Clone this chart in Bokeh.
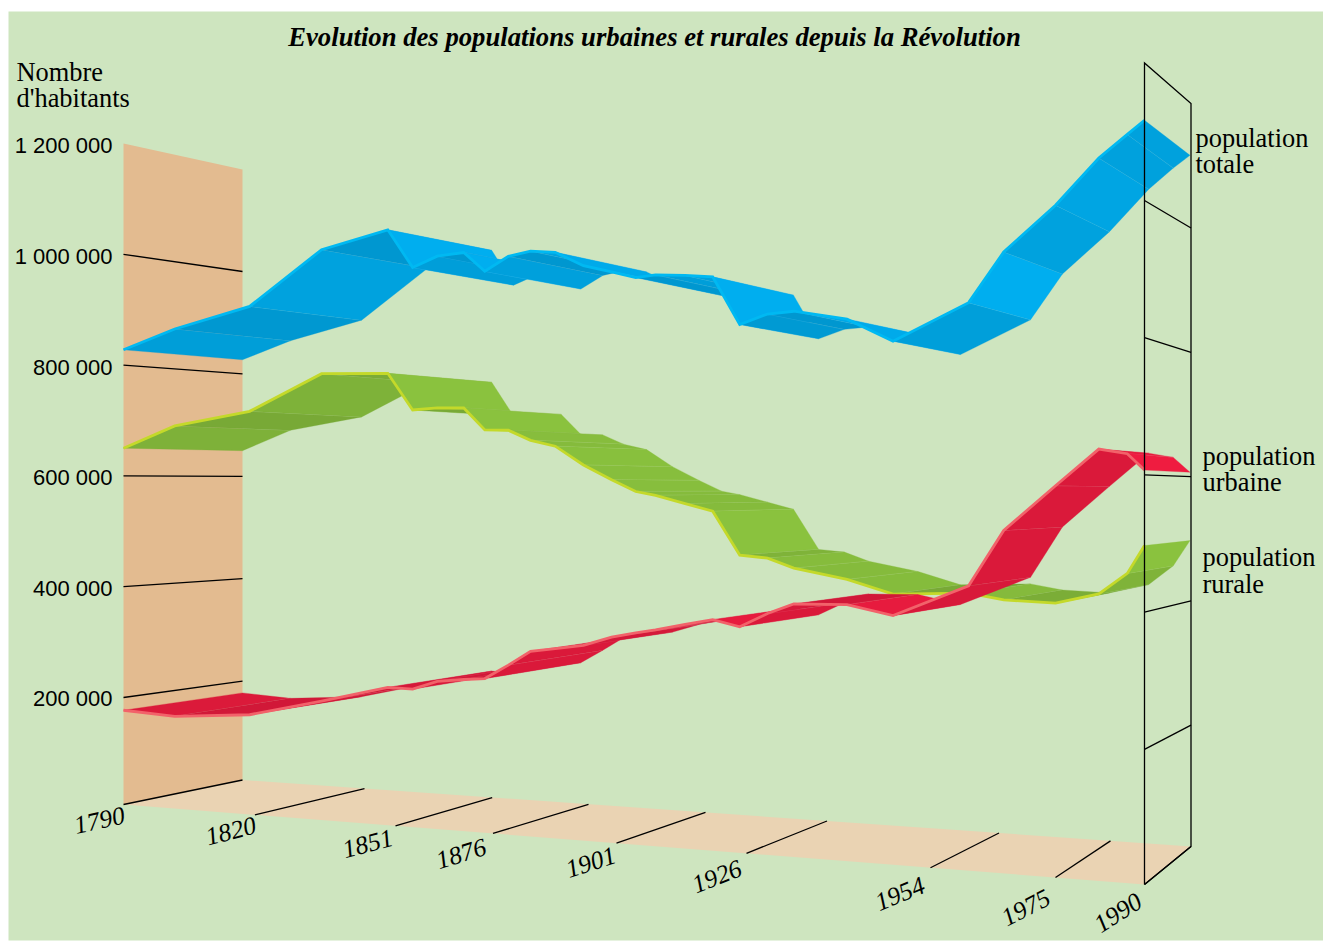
import math
import numpy as np
from bokeh.plotting import figure
from bokeh.core.properties import value
from bokeh.embed import file_html
from bokeh.resources import INLINE

# ---------- data ----------
CENSUS_YEARS = [1790, 1801.7, 1818.8, 1834.7, 1849.3, 1855.4, 1861.7, 1868.5, 1873.9, 1879.1,
                1883.6, 1888.6, 1894.3, 1900.0, 1904.7, 1908.5, 1914.2, 1919.5, 1924.7, 1929.2,
                1933.2, 1941.3, 1948.3, 1960.4, 1966.3, 1975, 1982.3, 1987.1, 1990]
POP_TOTALE = [827600, 862000, 897000, 990000, 1018000, 952000, 969000, 973000, 940000, 963000,
              970000, 966000, 942000, 930000, 919000, 922000, 919000, 915000, 838000, 853000,
              856000, 841000, 805000, 860000, 934000, 1000000, 1066000, 1098000, 1117000]
POP_RURALE = [650000, 689000, 713000, 776000, 774000, 711000, 714000, 713000, 676000, 675000,
              658000, 648000, 617000, 593000, 574000, 568000, 555000, 543000, 474000, 470000,
              455000, 439000, 418000, 422000, 413000, 410000, 425000, 456000, 497000]
POP_URBAINE = [177000, 171000, 181000, 211000, 240000, 239000, 254000, 259000, 262000, 286000,
               310000, 316000, 323000, 338000, 346000, 352000, 362000, 371000, 361000, 383000,
               399000, 400000, 385000, 433000, 517000, 584000, 638000, 631000, 607000]
YEAR_TICKS = [1790, 1820, 1851, 1876, 1901, 1926, 1954, 1975, 1990]
VALUE_TICKS = [200000, 400000, 600000, 800000, 1000000]
VALUE_LABELS = ["200 000", "400 000", "600 000", "800 000", "1 000 000", "1 200 000"]
TITLE = "Evolution des populations urbaines et rurales depuis la Révolution"

# ---------- projection (layout) ----------
TICK_FRONT = [123, 254.4, 395, 492.5, 616, 746, 930, 1055, 1144]
TICK_BACK = [242, 364, 491.7, 588, 705, 826.5, 998.5, 1110, 1190.5]
DEPTH_F = [123, 174.3, 249, 321, 387, 412, 739, 968, 1055, 1098, 1127, 1144]
DEPTH_B = [242, 290, 361, 427, 491, 513, 818, 1030, 1109, 1148, 1173, 1189.5]


def front_x(year):
    return np.interp(year, YEAR_TICKS, TICK_FRONT)


def back_x(fx):
    return np.interp(fx, DEPTH_F, DEPTH_B)


def front_y(x, v):
    t = (np.asarray(x) - 123) / 1021
    return 807.8 + 78.2 * t - np.asarray(v) / 1e5 * (55.4 + 13.2 * t)


def back_y(x, v):
    t = (np.asarray(x) - 242) / 948
    return 783 + 66 * t - np.asarray(v) / 1e5 * (51.2 + 10.95 * t)


def shade(slope, cap):
    k = np.interp(slope, [-1.5, -0.25, -0.05, 0.0, 0.45, 0.7, 1.3, 2.1],
                  [1.0, 0.96, 0.89, 0.87, 0.87, 0.91, 0.93, 1.0])
    return min(k, cap) if slope > 0 else k


def col(base, k):
    return "#%02x%02x%02x" % tuple(int(round(c * k)) for c in base)


W, H = 1323, 941
p = figure(width=W, height=H, x_range=(0, W), y_range=(H, 0), output_backend="svg",
           toolbar_location=None, min_border=0, outline_line_color=None,
           background_fill_color="white", border_fill_color="white")
p.axis.visible = False
p.grid.visible = False

# page panel
p.patch([8, 1323, 1323, 8], [11, 11, 940, 940], fill_color="#cee5bf", line_color=None)
# wall and floor
p.patch([123, 242, 242, 123], [143, 169, 779.5, 804], fill_color="#e3bb90", line_color=None)
p.patch([123, 242, 1190.5, 1144], [804, 779.5, 846, 884], fill_color="#ead3b3", line_color=None)

# wall ticks
LW = 1.3
for v in VALUE_TICKS:
    p.line([123, 242], [front_y(123, v), back_y(242, v)], line_color="black", line_width=LW)


# floor ticks
def floor_f(x):
    return 804 + 80 * (x - 123) / 1021


def floor_b(x):
    return 779.5 + 66.5 * (x - 242) / 948.5


for fx, bx in zip(TICK_FRONT, TICK_BACK):
    p.line([fx, bx], [floor_f(fx), floor_b(bx)], line_color="black", line_width=LW)


# ribbons
def ribbon(values, base, stroke, cap=1.0):
    fx = front_x(np.array(CENSUS_YEARS))
    bx = back_x(fx)
    v = np.array(values, dtype=float)
    fy, by = front_y(fx, v), back_y(bx, v)
    for i in range(len(fx) - 1):
        slope = (v[i + 1] - v[i]) / 1000 / (fx[i + 1] - fx[i])
        c = col(base, shade(slope, cap))
        # left-to-right painting, each face with its own seam
        p.patch([fx[i], fx[i + 1], bx[i + 1], bx[i]], [fy[i], fy[i + 1], by[i + 1], by[i]],
                fill_color=c, line_color=c, line_width=0.3)
        if i < len(fx) - 2:
            p.line([fx[i + 1], bx[i + 1]], [fy[i + 1], by[i + 1]], line_color="white",
                   line_alpha=0.22, line_width=0.7)
    p.line(fx, fy, line_color=stroke, line_width=2.8, line_join="miter")


ribbon(POP_TOTALE, (0, 174, 239), "#00b9f2")
ribbon(POP_RURALE, (138, 194, 62), "#c4d92a")
ribbon(POP_URBAINE, (240, 28, 64), "#f2626a", cap=0.91)

# right frame, over the ribbons
p.line([1144, 1144, 1190.5, 1190.5, 1144, 1144], [884, 62.5, 103, 846, 884, 884],
       line_color="black", line_width=LW, line_join="miter")
for v in VALUE_TICKS:
    p.line([1144, 1190.5], [front_y(1144, v), back_y(1190, v)], line_color="black", line_width=LW)

# texts
serif = value("Liberation Serif")
sans = value("Liberation Sans")


def label(x, y, t, size, font=serif, style="normal", align="left", angle=0.0):
    p.text([x], [y], text=[t], text_font=font, text_font_size=value(f"{size}px"),
           text_font_style=style, text_align=align, text_baseline="alphabetic",
           text_color="black", angle=angle, angle_units="deg")


label(654, 36, TITLE, 26.7, style="bold italic", align="center")
label(16, 71.5, "Nombre", 26.4)
label(16, 97.5, "d'habitants", 26.4)
for lab, y in zip(VALUE_LABELS, [698, 588, 477, 367, 256, 145]):
    label(112, y, lab, 22, font=sans, align="right")
for txt, x, y in [("population", 1195, 137.5), ("totale", 1195, 163.5),
                  ("population", 1202, 455.5), ("urbaine", 1202, 481.5),
                  ("population", 1202, 556.5), ("rurale", 1202, 583.5)]:
    label(x, y, txt, 26.4)
YEAR_POS = [(76, 835.7, 12.3), (208, 847.3, 14.4), (345, 860, 14.8), (439, 871, 17),
            (569, 880, 18), (696, 895.7, 21.4), (879.4, 913.3, 22.3), (1007, 929.3, 27.3),
            (1101, 936.3, 32.5)]
for yr, (x, y, a) in zip(YEAR_TICKS, YEAR_POS):
    label(x - 9.5 * math.sin(math.radians(a)), y - 10.5, str(yr), 25.5, style="italic", angle=a)

open("out.html", "w").write(file_html(p, INLINE))
